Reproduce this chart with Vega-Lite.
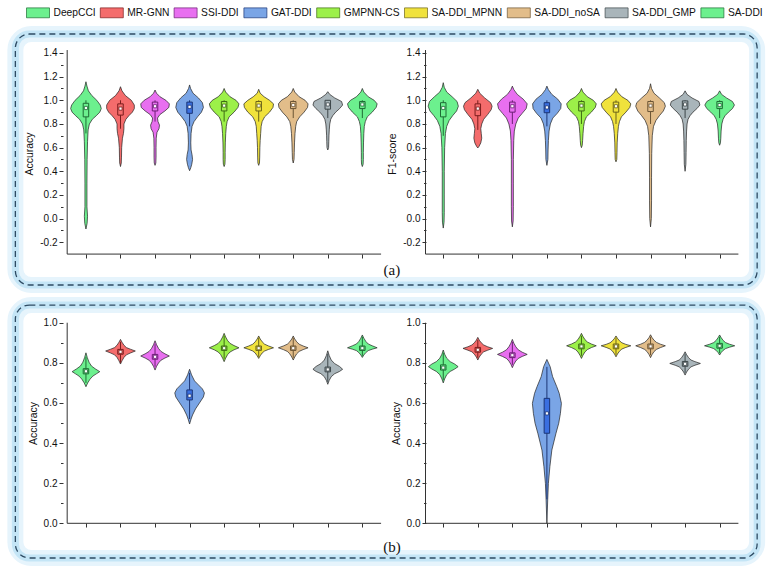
{
"$schema": "https://vega.github.io/schema/vega-lite/v6.json",
"width": 774, "height": 571,
"autosize": {"type": "fit", "contains": "padding"},
"padding": 0,
"background": "white",
"config": {
  "view": {"stroke": null},
  "axis": {"labelFont": "Liberation Sans", "titleFont": "Liberation Sans", "labelFontSize": 10, "titleFontSize": 10.5, "titleFontWeight": "normal", "labelColor": "#111", "titleColor": "#111", "tickColor": "#333", "grid": false, "domain": false}
},
"datasets": {
"vio": [
{"p":"aL","g":"DeepCCI","i":1,"v":[1.157,1.12,1.08,1.04,1.0,0.96,0.93,0.9,0.87,0.84,0.8,0.75,0.65,0.5,0.3,0.1,0.02,-0.04,-0.088],"w":[0,0.029,0.071,0.171,0.314,0.414,0.443,0.4,0.3,0.186,0.1,0.063,0.046,0.034,0.029,0.029,0.046,0.034,0]},
{"p":"aL","g":"MR-GNN","i":2,"v":[1.115,1.08,1.04,1.0,0.96,0.93,0.9,0.87,0.84,0.8,0.76,0.72,0.68,0.6,0.52,0.47,0.44],"w":[0,0.043,0.143,0.314,0.4,0.4,0.343,0.243,0.157,0.1,0.1,0.086,0.057,0.034,0.029,0.023,0]},
{"p":"aL","g":"SSI-DDI","i":3,"v":[1.087,1.06,1.03,1.0,0.97,0.94,0.91,0.88,0.85,0.82,0.79,0.76,0.73,0.68,0.6,0.52,0.47,0.45],"w":[0,0.043,0.143,0.314,0.414,0.4,0.286,0.143,0.071,0.086,0.129,0.114,0.057,0.034,0.029,0.029,0.023,0]},
{"p":"aL","g":"GAT-DDI","i":4,"v":[1.13,1.1,1.06,1.02,0.98,0.94,0.9,0.86,0.82,0.78,0.72,0.64,0.58,0.54,0.5,0.46,0.43,0.405],"w":[0,0.029,0.1,0.257,0.371,0.4,0.343,0.229,0.129,0.071,0.043,0.034,0.043,0.071,0.086,0.063,0.034,0]},
{"p":"aL","g":"GMPNN-CS","i":5,"v":[1.1,1.07,1.03,1.0,0.97,0.94,0.9,0.86,0.82,0.78,0.72,0.64,0.56,0.5,0.46,0.44],"w":[0,0.043,0.171,0.343,0.429,0.4,0.286,0.143,0.086,0.063,0.046,0.034,0.029,0.029,0.023,0]},
{"p":"aL","g":"SA-DDI_MPNN","i":6,"v":[1.093,1.06,1.03,1.0,0.97,0.94,0.9,0.86,0.82,0.78,0.72,0.66,0.6,0.52,0.47,0.45],"w":[0,0.043,0.157,0.314,0.429,0.414,0.314,0.171,0.1,0.071,0.057,0.043,0.034,0.029,0.023,0]},
{"p":"aL","g":"SA-DDI_noSA","i":7,"v":[1.1,1.07,1.03,1.0,0.97,0.94,0.9,0.86,0.82,0.78,0.72,0.64,0.56,0.5,0.47],"w":[0,0.043,0.171,0.343,0.429,0.414,0.314,0.186,0.1,0.071,0.051,0.037,0.029,0.023,0]},
{"p":"aL","g":"SA-DDI_GMP","i":8,"v":[1.073,1.05,1.02,0.99,0.96,0.93,0.9,0.87,0.84,0.8,0.75,0.7,0.65,0.6,0.58],"w":[0,0.057,0.2,0.4,0.429,0.343,0.229,0.143,0.086,0.057,0.043,0.034,0.029,0.023,0]},
{"p":"aL","g":"SA-DDI","i":9,"v":[1.1,1.07,1.03,1.0,0.97,0.94,0.9,0.86,0.82,0.78,0.72,0.64,0.56,0.5,0.46,0.44],"w":[0,0.043,0.171,0.343,0.429,0.4,0.286,0.143,0.086,0.057,0.043,0.034,0.029,0.029,0.023,0]},
{"p":"aR","g":"DeepCCI","i":1,"v":[1.149,1.11,1.07,1.03,0.99,0.95,0.91,0.87,0.83,0.78,0.72,0.6,0.4,0.2,0.05,-0.03,-0.08],"w":[0,0.029,0.1,0.257,0.4,0.437,0.386,0.271,0.171,0.1,0.063,0.04,0.029,0.029,0.029,0.023,0]},
{"p":"aR","g":"MR-GNN","i":2,"v":[1.093,1.06,1.02,0.98,0.95,0.92,0.88,0.84,0.8,0.76,0.72,0.68,0.64,0.61,0.597],"w":[0,0.057,0.2,0.371,0.414,0.386,0.286,0.171,0.114,0.086,0.1,0.114,0.086,0.034,0]},
{"p":"aR","g":"SSI-DDI","i":3,"v":[1.12,1.09,1.05,1.01,0.97,0.93,0.89,0.85,0.8,0.74,0.66,0.5,0.3,0.1,-0.02,-0.07],"w":[0,0.043,0.143,0.314,0.429,0.4,0.286,0.171,0.1,0.057,0.04,0.029,0.029,0.029,0.023,0]},
{"p":"aR","g":"GAT-DDI","i":4,"v":[1.12,1.09,1.05,1.01,0.97,0.93,0.89,0.85,0.8,0.74,0.66,0.58,0.5,0.45],"w":[0,0.043,0.143,0.314,0.414,0.4,0.3,0.171,0.1,0.063,0.043,0.034,0.029,0]},
{"p":"aR","g":"GMPNN-CS","i":5,"v":[1.1,1.07,1.03,1.0,0.97,0.94,0.9,0.86,0.82,0.78,0.72,0.66,0.62,0.6],"w":[0,0.043,0.171,0.343,0.429,0.4,0.286,0.143,0.086,0.063,0.046,0.034,0.023,0]},
{"p":"aR","g":"SA-DDI_MPNN","i":6,"v":[1.1,1.07,1.03,1.0,0.97,0.94,0.9,0.86,0.82,0.78,0.72,0.64,0.56,0.5,0.48],"w":[0,0.043,0.171,0.343,0.429,0.4,0.286,0.157,0.1,0.071,0.05,0.034,0.029,0.023,0]},
{"p":"aR","g":"SA-DDI_noSA","i":7,"v":[1.14,1.1,1.06,1.02,0.98,0.95,0.91,0.87,0.83,0.78,0.7,0.55,0.35,0.15,0.0,-0.07],"w":[0,0.029,0.1,0.257,0.4,0.429,0.371,0.257,0.157,0.086,0.05,0.034,0.029,0.029,0.023,0]},
{"p":"aR","g":"SA-DDI_GMP","i":8,"v":[1.08,1.05,1.02,0.99,0.96,0.93,0.9,0.87,0.84,0.8,0.74,0.66,0.56,0.46,0.4],"w":[0,0.057,0.2,0.4,0.429,0.343,0.229,0.143,0.086,0.057,0.043,0.034,0.029,0.023,0]},
{"p":"aR","g":"SA-DDI","i":9,"v":[1.08,1.05,1.02,0.99,0.96,0.93,0.9,0.87,0.84,0.8,0.74,0.68,0.64,0.62],"w":[0,0.057,0.2,0.371,0.429,0.371,0.257,0.157,0.1,0.063,0.043,0.034,0.023,0]},
{"p":"bL","g":"DeepCCI","i":1,"v":[0.85,0.826,0.803,0.784,0.77,0.756,0.745,0.734,0.719,0.7,0.681],"w":[0,0.04,0.09,0.16,0.27,0.4,0.3,0.2,0.12,0.05,0]},
{"p":"bL","g":"MR-GNN","i":2,"v":[0.917,0.903,0.888,0.876,0.868,0.859,0.849,0.84,0.827,0.81,0.794],"w":[0,0.043,0.1,0.171,0.286,0.429,0.286,0.171,0.1,0.043,0]},
{"p":"bL","g":"SSI-DDI","i":3,"v":[0.91,0.891,0.872,0.857,0.845,0.834,0.824,0.813,0.799,0.782,0.764],"w":[0,0.043,0.1,0.171,0.286,0.414,0.286,0.171,0.1,0.043,0]},
{"p":"bL","g":"GAT-DDI","i":4,"v":[0.768,0.74,0.71,0.69,0.67,0.65,0.63,0.6,0.57,0.54,0.52,0.495],"w":[0,0.057,0.143,0.257,0.371,0.429,0.4,0.286,0.171,0.086,0.043,0]},
{"p":"bL","g":"GMPNN-CS","i":5,"v":[0.947,0.929,0.911,0.897,0.886,0.875,0.865,0.854,0.841,0.823,0.806],"w":[0,0.043,0.1,0.171,0.286,0.429,0.286,0.171,0.1,0.043,0]},
{"p":"bL","g":"SA-DDI_MPNN","i":6,"v":[0.934,0.919,0.905,0.893,0.884,0.875,0.867,0.859,0.849,0.835,0.822],"w":[0,0.043,0.1,0.171,0.286,0.429,0.286,0.171,0.1,0.043,0]},
{"p":"bL","g":"SA-DDI_noSA","i":7,"v":[0.934,0.919,0.905,0.893,0.884,0.875,0.866,0.857,0.845,0.829,0.814],"w":[0,0.043,0.1,0.171,0.286,0.429,0.286,0.171,0.1,0.043,0]},
{"p":"bL","g":"SA-DDI_GMP","i":8,"v":[0.86,0.837,0.814,0.796,0.782,0.768,0.757,0.746,0.731,0.712,0.693],"w":[0,0.04,0.1,0.2,0.34,0.43,0.34,0.2,0.1,0.04,0]},
{"p":"bL","g":"SA-DDI","i":9,"v":[0.939,0.923,0.907,0.894,0.885,0.875,0.868,0.861,0.851,0.839,0.827],"w":[0,0.043,0.1,0.171,0.286,0.429,0.286,0.171,0.1,0.043,0]},
{"p":"bR","g":"DeepCCI","i":1,"v":[0.864,0.843,0.823,0.806,0.794,0.781,0.769,0.757,0.741,0.72,0.7],"w":[0,0.04,0.1,0.2,0.33,0.43,0.33,0.2,0.1,0.04,0]},
{"p":"bR","g":"MR-GNN","i":2,"v":[0.927,0.913,0.9,0.889,0.88,0.872,0.863,0.855,0.843,0.829,0.814],"w":[0,0.043,0.1,0.171,0.286,0.429,0.286,0.171,0.1,0.043,0]},
{"p":"bR","g":"SSI-DDI","i":3,"v":[0.917,0.898,0.88,0.865,0.853,0.842,0.832,0.822,0.809,0.793,0.776],"w":[0,0.043,0.1,0.171,0.286,0.43,0.286,0.171,0.1,0.043,0]},
{"p":"bR","g":"GAT-DDI","i":4,"v":[0.817,0.781,0.731,0.681,0.648,0.598,0.548,0.499,0.449,0.365,0.282,0.199,0.116,0],"w":[0,0.094,0.166,0.286,0.357,0.42,0.391,0.343,0.263,0.143,0.086,0.043,0.023,0]},
{"p":"bR","g":"GMPNN-CS","i":5,"v":[0.947,0.932,0.916,0.904,0.894,0.885,0.876,0.866,0.854,0.838,0.822],"w":[0,0.043,0.1,0.171,0.286,0.429,0.286,0.171,0.1,0.043,0]},
{"p":"bR","g":"SA-DDI_MPNN","i":6,"v":[0.934,0.922,0.91,0.9,0.892,0.885,0.877,0.869,0.858,0.844,0.83],"w":[0,0.043,0.1,0.171,0.286,0.429,0.286,0.171,0.1,0.043,0]},
{"p":"bR","g":"SA-DDI_noSA","i":7,"v":[0.94,0.926,0.913,0.902,0.893,0.885,0.876,0.867,0.856,0.841,0.826],"w":[0,0.043,0.1,0.171,0.286,0.429,0.286,0.171,0.1,0.043,0]},
{"p":"bR","g":"SA-DDI_GMP","i":8,"v":[0.855,0.841,0.826,0.814,0.806,0.797,0.788,0.78,0.768,0.754,0.739],"w":[0,0.043,0.1,0.171,0.286,0.443,0.286,0.171,0.1,0.043,0]},
{"p":"bR","g":"SA-DDI","i":9,"v":[0.939,0.926,0.912,0.901,0.893,0.885,0.878,0.871,0.862,0.851,0.839],"w":[0,0.043,0.1,0.171,0.286,0.437,0.286,0.171,0.1,0.043,0]}
],
"box": [
{"p":"aL","g":"DeepCCI","i":1,"q1":0.86,"q3":0.975,"m":0.935,"lo":0.72,"hi":1.0},
{"p":"aL","g":"MR-GNN","i":2,"q1":0.875,"q3":0.97,"m":0.93,"lo":0.76,"hi":1.0},
{"p":"aL","g":"SSI-DDI","i":3,"q1":0.91,"q3":0.985,"m":0.95,"lo":0.82,"hi":1.0},
{"p":"aL","g":"GAT-DDI","i":4,"q1":0.89,"q3":0.985,"m":0.945,"lo":0.78,"hi":1.0},
{"p":"aL","g":"GMPNN-CS","i":5,"q1":0.91,"q3":0.99,"m":0.955,"lo":0.82,"hi":1.0},
{"p":"aL","g":"SA-DDI_MPNN","i":6,"q1":0.91,"q3":0.99,"m":0.955,"lo":0.82,"hi":1.0},
{"p":"aL","g":"SA-DDI_noSA","i":7,"q1":0.93,"q3":0.99,"m":0.96,"lo":0.85,"hi":1.0},
{"p":"aL","g":"SA-DDI_GMP","i":8,"q1":0.925,"q3":1.0,"m":0.965,"lo":0.85,"hi":1.0},
{"p":"aL","g":"SA-DDI","i":9,"q1":0.93,"q3":0.99,"m":0.965,"lo":0.85,"hi":1.0},
{"p":"aR","g":"DeepCCI","i":1,"q1":0.86,"q3":0.98,"m":0.935,"lo":0.7,"hi":1.0},
{"p":"aR","g":"MR-GNN","i":2,"q1":0.87,"q3":0.97,"m":0.93,"lo":0.75,"hi":1.0},
{"p":"aR","g":"SSI-DDI","i":3,"q1":0.9,"q3":0.985,"m":0.95,"lo":0.8,"hi":1.0},
{"p":"aR","g":"GAT-DDI","i":4,"q1":0.895,"q3":0.98,"m":0.94,"lo":0.78,"hi":1.0},
{"p":"aR","g":"GMPNN-CS","i":5,"q1":0.91,"q3":0.99,"m":0.955,"lo":0.8,"hi":1.0},
{"p":"aR","g":"SA-DDI_MPNN","i":6,"q1":0.9,"q3":0.985,"m":0.95,"lo":0.8,"hi":1.0},
{"p":"aR","g":"SA-DDI_noSA","i":7,"q1":0.905,"q3":0.99,"m":0.955,"lo":0.8,"hi":1.0},
{"p":"aR","g":"SA-DDI_GMP","i":8,"q1":0.925,"q3":0.995,"m":0.965,"lo":0.85,"hi":1.0},
{"p":"aR","g":"SA-DDI","i":9,"q1":0.93,"q3":0.99,"m":0.96,"lo":0.85,"hi":1.0},
{"p":"bL","g":"DeepCCI","i":1,"q1":0.745,"q3":0.771,"m":0.758,"lo":0.7,"hi":0.83},
{"p":"bL","g":"MR-GNN","i":2,"q1":0.843,"q3":0.867,"m":0.855,"lo":0.8,"hi":0.905},
{"p":"bL","g":"SSI-DDI","i":3,"q1":0.818,"q3":0.842,"m":0.83,"lo":0.78,"hi":0.895},
{"p":"bL","g":"GAT-DDI","i":4,"q1":0.615,"q3":0.665,"m":0.636,"lo":0.52,"hi":0.75},
{"p":"bL","g":"GMPNN-CS","i":5,"q1":0.862,"q3":0.884,"m":0.873,"lo":0.82,"hi":0.935},
{"p":"bL","g":"SA-DDI_MPNN","i":6,"q1":0.862,"q3":0.884,"m":0.873,"lo":0.83,"hi":0.925},
{"p":"bL","g":"SA-DDI_noSA","i":7,"q1":0.862,"q3":0.884,"m":0.873,"lo":0.825,"hi":0.925},
{"p":"bL","g":"SA-DDI_GMP","i":8,"q1":0.755,"q3":0.779,"m":0.767,"lo":0.705,"hi":0.845},
{"p":"bL","g":"SA-DDI","i":9,"q1":0.862,"q3":0.884,"m":0.873,"lo":0.835,"hi":0.93},
{"p":"bR","g":"DeepCCI","i":1,"q1":0.764,"q3":0.79,"m":0.776,"lo":0.715,"hi":0.85},
{"p":"bR","g":"MR-GNN","i":2,"q1":0.853,"q3":0.877,"m":0.865,"lo":0.825,"hi":0.915},
{"p":"bR","g":"SSI-DDI","i":3,"q1":0.826,"q3":0.85,"m":0.838,"lo":0.79,"hi":0.905},
{"p":"bR","g":"GAT-DDI","i":4,"q1":0.449,"q3":0.623,"m":0.548,"lo":0.12,"hi":0.78},
{"p":"bR","g":"GMPNN-CS","i":5,"q1":0.87,"q3":0.894,"m":0.882,"lo":0.835,"hi":0.935},
{"p":"bR","g":"SA-DDI_MPNN","i":6,"q1":0.87,"q3":0.894,"m":0.882,"lo":0.84,"hi":0.925},
{"p":"bR","g":"SA-DDI_noSA","i":7,"q1":0.87,"q3":0.894,"m":0.882,"lo":0.838,"hi":0.93},
{"p":"bR","g":"SA-DDI_GMP","i":8,"q1":0.783,"q3":0.807,"m":0.795,"lo":0.75,"hi":0.845},
{"p":"bR","g":"SA-DDI","i":9,"q1":0.873,"q3":0.897,"m":0.885,"lo":0.848,"hi":0.93}
]
},
"layer": [
{
 "layer": [
  {"data": {"values": [{}]}, "mark": {"type": "rect", "filled": false, "stroke": "#e6f4fc", "strokeWidth": 16, "cornerRadius": 16}, "encoding": {"x": {"datum": -1.043, "type": "quantitative", "axis": null}, "x2": {"datum": 20.428}, "y": {"datum": 1.5604, "type": "quantitative", "axis": null}, "y2": {"datum": -0.5613}}},
  {"data": {"values": [{}]}, "mark": {"type": "rect", "filled": false, "stroke": "#c4e5f6", "strokeWidth": 7, "cornerRadius": 14}, "encoding": {"x": {"datum": -1.043, "type": "quantitative", "axis": null}, "x2": {"datum": 20.428}, "y": {"datum": 1.5604, "type": "quantitative", "axis": null}, "y2": {"datum": -0.5613}}},
  {"data": {"values": [{}]}, "mark": {"type": "rect", "filled": false, "stroke": "#2e4b63", "strokeWidth": 1.3, "strokeDash": [6, 4], "cornerRadius": 14}, "encoding": {"x": {"datum": -1.043, "type": "quantitative", "axis": null}, "x2": {"datum": 20.428}, "y": {"datum": 1.5604, "type": "quantitative", "axis": null}, "y2": {"datum": -0.5613}}},
  {"data": {"values": [{}]}, "mark": {"type": "rule", "color": "#333", "strokeWidth": 1}, "encoding": {"x": {"datum": 0.457, "type": "quantitative", "axis": null}, "y": {"datum": -0.3, "type": "quantitative", "axis": null}, "y2": {"datum": 1.425}}},
  {"data": {"values": [{}]}, "mark": {"type": "rule", "color": "#333", "strokeWidth": 1}, "encoding": {"x": {"datum": 0.457, "type": "quantitative", "axis": null}, "x2": {"datum": 9.543}, "y": {"datum": -0.3, "type": "quantitative", "axis": null}}},
  {"data": {"name": "vio"}, "transform": [{"filter": "datum.p == 'aL'"}, {"flatten": ["v", "w"]}, {"calculate": "datum.i - datum.w", "as": "xl"}, {"calculate": "datum.i + datum.w", "as": "xr"}],
   "mark": {"type": "area", "orient": "horizontal", "stroke": "#222", "strokeWidth": 0.7, "fillOpacity": 1},
   "encoding": {
     "y": {"field": "v", "type": "quantitative", "scale": {"domain": [-2.979, 1.848], "nice": false, "zero": false}, "axis": {"orient": "left", "offset": -63, "values": [-0.2, 0, 0.2, 0.4, 0.6, 0.8, 1, 1.2, 1.4], "format": ".1f", "labelExpr": "replace(datum.label, '\u2212', '-')", "tickSize": 4, "labelPadding": 2, "title": "Accuracy", "titleY": 153.5, "titlePadding": 5}},
     "x": {"field": "xl", "type": "quantitative", "scale": {"domain": [-1.343, 20.771], "nice": false, "zero": false}, "axis": null},
     "x2": {"field": "xr"},
     "color": {"field": "g", "type": "nominal", "scale": {"domain": ["DeepCCI","MR-GNN","SSI-DDI","GAT-DDI","GMPNN-CS","SA-DDI_MPNN","SA-DDI_noSA","SA-DDI_GMP","SA-DDI"], "range": ["#6cf08e","#f46c6c","#e86ff0","#7aa5e6","#9cf049","#f0e23c","#e2bd8a","#a9b5ba","#6cf08e"]},
       "legend": {"orient": "none", "legendX": 26, "legendY": 0.5, "direction": "horizontal", "columns": 9, "title": null, "symbolType": "M-1,-0.43H1V0.43H-1Z", "symbolSize": 529, "symbolStrokeColor": "#555", "symbolStrokeWidth": 0.7, "symbolOpacity": 1, "labelFont": "Liberation Sans", "labelFontSize": 10.25, "labelColor": "#111", "labelOffset": 3.5, "columnPadding": 2.8, "padding": 0}}
   }},
  {"data": {"name": "box"}, "transform": [{"filter": "datum.p == 'aL'"}], "mark": {"type": "rule", "strokeWidth": 1},
   "encoding": {"x": {"field": "i", "type": "quantitative", "axis": {"orient": "bottom", "offset": -317, "values": [1,2,3,4,5,6,7,8,9], "labels": false, "tickSize": 4, "title": null}}, "y": {"field": "lo", "type": "quantitative", "axis": null}, "y2": {"field": "hi"}, "stroke": {"field": "g", "type": "nominal", "legend": null}}},
  {"data": {"name": "box"}, "transform": [{"filter": "datum.p == 'aL'"}], "mark": {"type": "bar", "width": 5.5, "strokeWidth": 1},
   "encoding": {"x": {"field": "i", "type": "quantitative", "axis": null}, "y": {"field": "q1", "type": "quantitative", "axis": {"orient": "left", "offset": -63, "values": [-0.1, 0.1, 0.3, 0.5, 0.7, 0.9, 1.1, 1.3], "labels": false, "tickSize": 2.5, "title": null}}, "y2": {"field": "q3"},
     "fill": {"field": "g", "type": "nominal", "scale": {"domain": ["DeepCCI","MR-GNN","SSI-DDI","GAT-DDI","GMPNN-CS","SA-DDI_MPNN","SA-DDI_noSA","SA-DDI_GMP","SA-DDI"], "range": ["#6cf08e","#f46c6c","#e86ff0","#3a6fe0","#9cf049","#f0e23c","#e2bd8a","#a9b5ba","#6cf08e"]}, "legend": null},
     "stroke": {"field": "g", "type": "nominal", "scale": {"domain": ["DeepCCI","MR-GNN","SSI-DDI","GAT-DDI","GMPNN-CS","SA-DDI_MPNN","SA-DDI_noSA","SA-DDI_GMP","SA-DDI"], "range": ["#1e6b34","#7a1d1d","#6b1f73","#1b3576","#3e6b14","#6b631a","#6b5434","#3c4649","#1e6b34"]}, "legend": null}}},
  {"data": {"name": "box"}, "transform": [{"filter": "datum.p == 'aL'"}], "mark": {"type": "point", "shape": "square", "size": 10, "filled": true, "fill": "white", "strokeWidth": 0.8, "opacity": 1},
   "encoding": {"x": {"field": "i", "type": "quantitative", "axis": null}, "y": {"field": "m", "type": "quantitative", "axis": null}, "stroke": {"field": "g", "type": "nominal", "legend": null}}},
  {"data": {"values": [{"t": "(a)"}]}, "mark": {"type": "text", "font": "Liberation Serif", "fontSize": 15, "baseline": "middle", "align": "center", "color": "#111"},
   "encoding": {"x": {"datum": 9.857, "type": "quantitative", "axis": null}, "y": {"datum": -0.4345, "type": "quantitative", "axis": null}, "text": {"field": "t"}}}
 ],
 "resolve": {"axis": {"x": "independent", "y": "independent"}}
},
{
 "layer": [
  {"data": {"values": [{}]}, "mark": {"type": "rule", "color": "#333", "strokeWidth": 1}, "encoding": {"x": {"datum": 0.486, "type": "quantitative", "axis": null}, "y": {"datum": -0.3, "type": "quantitative", "axis": null}, "y2": {"datum": 1.425}}},
  {"data": {"values": [{}]}, "mark": {"type": "rule", "color": "#333", "strokeWidth": 1}, "encoding": {"x": {"datum": 0.486, "type": "quantitative", "axis": null}, "x2": {"datum": 9.543}, "y": {"datum": -0.3, "type": "quantitative", "axis": null}}},
  {"data": {"name": "vio"}, "transform": [{"filter": "datum.p == 'aR'"}, {"flatten": ["v", "w"]}, {"calculate": "datum.i - datum.w", "as": "xl"}, {"calculate": "datum.i + datum.w", "as": "xr"}],
   "mark": {"type": "area", "orient": "horizontal", "stroke": "#222", "strokeWidth": 0.7, "fillOpacity": 1},
   "encoding": {
     "y": {"field": "v", "type": "quantitative", "scale": {"domain": [-2.979, 1.848], "nice": false, "zero": false}, "axis": {"orient": "left", "offset": -426, "values": [-0.2, 0, 0.2, 0.4, 0.6, 0.8, 1, 1.2, 1.4], "format": ".1f", "labelExpr": "replace(datum.label, '\u2212', '-')", "tickSize": 4, "labelPadding": 2, "title": "F1-score", "titleY": 153.5, "titlePadding": 5}},
     "x": {"field": "xl", "type": "quantitative", "scale": {"domain": [-11.686, 10.429], "nice": false, "zero": false}, "axis": null},
     "x2": {"field": "xr"},
     "color": {"field": "g", "type": "nominal", "legend": null}
   }},
  {"data": {"name": "box"}, "transform": [{"filter": "datum.p == 'aR'"}], "mark": {"type": "rule", "strokeWidth": 1},
   "encoding": {"x": {"field": "i", "type": "quantitative", "axis": {"orient": "bottom", "offset": -317, "values": [1,2,3,4,5,6,7,8,9], "labels": false, "tickSize": 4, "title": null}}, "y": {"field": "lo", "type": "quantitative", "axis": null}, "y2": {"field": "hi"}, "stroke": {"field": "g", "type": "nominal", "legend": null}}},
  {"data": {"name": "box"}, "transform": [{"filter": "datum.p == 'aR'"}], "mark": {"type": "bar", "width": 5.5, "strokeWidth": 1},
   "encoding": {"x": {"field": "i", "type": "quantitative", "axis": null}, "y": {"field": "q1", "type": "quantitative", "axis": {"orient": "left", "offset": -426, "values": [-0.1, 0.1, 0.3, 0.5, 0.7, 0.9, 1.1, 1.3], "labels": false, "tickSize": 2.5, "title": null}}, "y2": {"field": "q3"},
     "fill": {"field": "g", "type": "nominal", "legend": null}, "stroke": {"field": "g", "type": "nominal", "legend": null}}},
  {"data": {"name": "box"}, "transform": [{"filter": "datum.p == 'aR'"}], "mark": {"type": "point", "shape": "square", "size": 10, "filled": true, "fill": "white", "strokeWidth": 0.8, "opacity": 1},
   "encoding": {"x": {"field": "i", "type": "quantitative", "axis": null}, "y": {"field": "m", "type": "quantitative", "axis": null}, "stroke": {"field": "g", "type": "nominal", "legend": null}}}
 ],
 "resolve": {"axis": {"x": "independent", "y": "independent"}}
},
{
 "layer": [
  {"data": {"values": [{}]}, "mark": {"type": "rect", "filled": false, "stroke": "#e6f4fc", "strokeWidth": 16, "cornerRadius": 16}, "encoding": {"x": {"datum": -1.043, "type": "quantitative", "axis": null}, "x2": {"datum": 20.428}, "y": {"datum": 1.0882, "type": "quantitative", "axis": null}, "y2": {"datum": -0.173}}},
  {"data": {"values": [{}]}, "mark": {"type": "rect", "filled": false, "stroke": "#c4e5f6", "strokeWidth": 7, "cornerRadius": 14}, "encoding": {"x": {"datum": -1.043, "type": "quantitative", "axis": null}, "x2": {"datum": 20.428}, "y": {"datum": 1.0882, "type": "quantitative", "axis": null}, "y2": {"datum": -0.173}}},
  {"data": {"values": [{}]}, "mark": {"type": "rect", "filled": false, "stroke": "#2e4b63", "strokeWidth": 1.3, "strokeDash": [6, 4], "cornerRadius": 14}, "encoding": {"x": {"datum": -1.043, "type": "quantitative", "axis": null}, "x2": {"datum": 20.428}, "y": {"datum": 1.0882, "type": "quantitative", "axis": null}, "y2": {"datum": -0.173}}},
  {"data": {"values": [{}]}, "mark": {"type": "rule", "color": "#333", "strokeWidth": 1}, "encoding": {"x": {"datum": 0.457, "type": "quantitative", "axis": null}, "y": {"datum": 0, "type": "quantitative", "axis": null}, "y2": {"datum": 1.0}}},
  {"data": {"values": [{}]}, "mark": {"type": "rule", "color": "#333", "strokeWidth": 1}, "encoding": {"x": {"datum": 0.457, "type": "quantitative", "axis": null}, "x2": {"datum": 9.543}, "y": {"datum": 0, "type": "quantitative", "axis": null}}},
  {"data": {"name": "vio"}, "transform": [{"filter": "datum.p == 'bL'"}, {"flatten": ["v", "w"]}, {"calculate": "datum.i - datum.w", "as": "xl"}, {"calculate": "datum.i + datum.w", "as": "xr"}],
   "mark": {"type": "area", "orient": "horizontal", "stroke": "#222", "strokeWidth": 0.7, "fillOpacity": 1},
   "encoding": {
     "y": {"field": "v", "type": "quantitative", "scale": {"domain": [-0.2378, 2.609], "nice": false, "zero": false}, "axis": {"orient": "left", "offset": -63, "values": [0, 0.2, 0.4, 0.6, 0.8, 1], "format": ".1f", "tickSize": 4, "labelPadding": 2, "title": "Accuracy", "titleY": 423, "titlePadding": 5}},
     "x": {"field": "xl", "type": "quantitative", "scale": {"domain": [-1.343, 20.771], "nice": false, "zero": false}, "axis": null},
     "x2": {"field": "xr"},
     "color": {"field": "g", "type": "nominal", "legend": null}
   }},
  {"data": {"name": "box"}, "transform": [{"filter": "datum.p == 'bL'"}], "mark": {"type": "rule", "strokeWidth": 1},
   "encoding": {"x": {"field": "i", "type": "quantitative", "axis": {"orient": "bottom", "offset": -48, "values": [1,2,3,4,5,6,7,8,9], "labels": false, "tickSize": 4, "title": null}}, "y": {"field": "lo", "type": "quantitative", "axis": null}, "y2": {"field": "hi"}, "stroke": {"field": "g", "type": "nominal", "legend": null}}},
  {"data": {"name": "box"}, "transform": [{"filter": "datum.p == 'bL'"}], "mark": {"type": "bar", "width": 5.5, "strokeWidth": 1},
   "encoding": {"x": {"field": "i", "type": "quantitative", "axis": null}, "y": {"field": "q1", "type": "quantitative", "axis": {"orient": "left", "offset": -63, "values": [0.1, 0.3, 0.5, 0.7, 0.9], "labels": false, "tickSize": 2.5, "title": null}}, "y2": {"field": "q3"},
     "fill": {"field": "g", "type": "nominal", "legend": null}, "stroke": {"field": "g", "type": "nominal", "legend": null}}},
  {"data": {"name": "box"}, "transform": [{"filter": "datum.p == 'bL'"}], "mark": {"type": "point", "shape": "square", "size": 10, "filled": true, "fill": "white", "strokeWidth": 0.8, "opacity": 1},
   "encoding": {"x": {"field": "i", "type": "quantitative", "axis": null}, "y": {"field": "m", "type": "quantitative", "axis": null}, "stroke": {"field": "g", "type": "nominal", "legend": null}}},
  {"data": {"values": [{"t": "(b)"}]}, "mark": {"type": "text", "font": "Liberation Serif", "fontSize": 15, "baseline": "middle", "align": "center", "color": "#111"},
   "encoding": {"x": {"datum": 9.857, "type": "quantitative", "axis": null}, "y": {"datum": -0.118, "type": "quantitative", "axis": null}, "text": {"field": "t"}}}
 ],
 "resolve": {"axis": {"x": "independent", "y": "independent"}}
},
{
 "layer": [
  {"data": {"values": [{}]}, "mark": {"type": "rule", "color": "#333", "strokeWidth": 1}, "encoding": {"x": {"datum": 0.486, "type": "quantitative", "axis": null}, "y": {"datum": 0, "type": "quantitative", "axis": null}, "y2": {"datum": 1.0}}},
  {"data": {"values": [{}]}, "mark": {"type": "rule", "color": "#333", "strokeWidth": 1}, "encoding": {"x": {"datum": 0.486, "type": "quantitative", "axis": null}, "x2": {"datum": 9.543}, "y": {"datum": 0, "type": "quantitative", "axis": null}}},
  {"data": {"name": "vio"}, "transform": [{"filter": "datum.p == 'bR'"}, {"flatten": ["v", "w"]}, {"calculate": "datum.i - datum.w", "as": "xl"}, {"calculate": "datum.i + datum.w", "as": "xr"}],
   "mark": {"type": "area", "orient": "horizontal", "stroke": "#222", "strokeWidth": 0.7, "fillOpacity": 1},
   "encoding": {
     "y": {"field": "v", "type": "quantitative", "scale": {"domain": [-0.2378, 2.609], "nice": false, "zero": false}, "axis": {"orient": "left", "offset": -426, "values": [0, 0.2, 0.4, 0.6, 0.8, 1], "format": ".1f", "tickSize": 4, "labelPadding": 2, "title": "Accuracy", "titleY": 423, "titlePadding": 5}},
     "x": {"field": "xl", "type": "quantitative", "scale": {"domain": [-11.686, 10.429], "nice": false, "zero": false}, "axis": null},
     "x2": {"field": "xr"},
     "color": {"field": "g", "type": "nominal", "legend": null}
   }},
  {"data": {"name": "box"}, "transform": [{"filter": "datum.p == 'bR'"}], "mark": {"type": "rule", "strokeWidth": 1},
   "encoding": {"x": {"field": "i", "type": "quantitative", "axis": {"orient": "bottom", "offset": -48, "values": [1,2,3,4,5,6,7,8,9], "labels": false, "tickSize": 4, "title": null}}, "y": {"field": "lo", "type": "quantitative", "axis": null}, "y2": {"field": "hi"}, "stroke": {"field": "g", "type": "nominal", "legend": null}}},
  {"data": {"name": "box"}, "transform": [{"filter": "datum.p == 'bR'"}], "mark": {"type": "bar", "width": 5.5, "strokeWidth": 1},
   "encoding": {"x": {"field": "i", "type": "quantitative", "axis": null}, "y": {"field": "q1", "type": "quantitative", "axis": {"orient": "left", "offset": -426, "values": [0.1, 0.3, 0.5, 0.7, 0.9], "labels": false, "tickSize": 2.5, "title": null}}, "y2": {"field": "q3"},
     "fill": {"field": "g", "type": "nominal", "legend": null}, "stroke": {"field": "g", "type": "nominal", "legend": null}}},
  {"data": {"name": "box"}, "transform": [{"filter": "datum.p == 'bR'"}], "mark": {"type": "point", "shape": "square", "size": 10, "filled": true, "fill": "white", "strokeWidth": 0.8, "opacity": 1},
   "encoding": {"x": {"field": "i", "type": "quantitative", "axis": null}, "y": {"field": "m", "type": "quantitative", "axis": null}, "stroke": {"field": "g", "type": "nominal", "legend": null}}}
 ],
 "resolve": {"axis": {"x": "independent", "y": "independent"}}
}
],
"resolve": {"scale": {"x": "independent", "y": "independent"}}
}
